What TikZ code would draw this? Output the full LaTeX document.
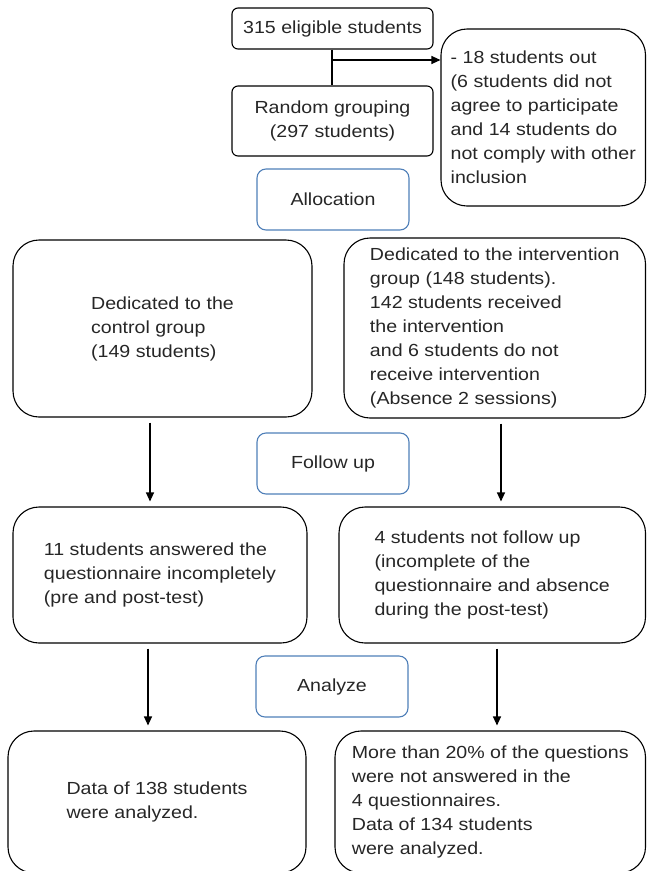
\documentclass[tikz,border=0pt]{standalone}
\usepackage{fontspec}
\setmainfont{Liberation Sans}[FakeStretch=1.12]
\usepackage{xcolor}
\usepackage{tikz}
\usetikzlibrary{arrows.meta, positioning, calc}
\definecolor{phaseblue}{HTML}{4F7FB8}
\definecolor{inkgray}{HTML}{262626}

\begin{document}
\begin{tikzpicture}[
  x=1pt, y=-1pt,
  every node/.style={font=\fontsize{17.5}{24}\selectfont, text=inkgray, inner sep=0pt},
  smallbox/.style={draw, line width=1.1pt, rounded corners=6pt, align=center},
  bigbox/.style={draw, line width=1.1pt, rounded corners=26pt, align=left},
  phasebox/.style={draw=phaseblue, line width=1.1pt, rounded corners=9pt, minimum width=152pt, minimum height=61pt, align=center},
  arr/.style={-{Triangle[length=9pt,width=8pt]}, line width=1.1pt},
]
\useasboundingbox (0,0) rectangle (647,871);
\clip (0,0) rectangle (647,871);

\node[smallbox, minimum width=201pt, minimum height=41pt] (elig) at (332.5,28.5) {315 eligible students};
\node[smallbox, minimum width=201pt, minimum height=70pt] (rand) at (332.5,121) {Random grouping\\(297 students)};
\node[bigbox, minimum width=204.5pt, minimum height=177pt] (excl) at (543.25,117.5)
  {- 18 students out\\(6 students did not\\agree to participate\\and 14 students do\\not comply with other\\inclusion};

\node[phasebox] (alloc) at (333,199.5) {Allocation};
\node[phasebox] (follow) at (333,463.5) {Follow up};
\node[phasebox] (analyze) at (332,686.5) {Analyze};

% Control arm (left)
\node[bigbox, minimum width=299pt, minimum height=177pt] (ctrl) at (162.5,328.5)
  {Dedicated to the\\control group\\(149 students)};
\node[bigbox, minimum width=294pt, minimum height=136pt] (incompl) at (160,575)
  {11 students answered the\\questionnaire incompletely\\(pre and post-test)};
\node[bigbox, minimum width=298pt, minimum height=142pt] (dataA) at (157,802)
  {Data of 138 students\\were analyzed.};

% Intervention arm (right)
\node[bigbox, minimum width=301.5pt, minimum height=180pt] (intv) at (494.75,328)
  {Dedicated to the intervention\\group (148 students).\\142 students received\\the intervention\\and 6 students do not\\receive intervention\\(Absence 2 sessions)};
\node[bigbox, minimum width=306.5pt, minimum height=136pt] (notfol) at (492.25,575)
  {4 students not follow up\\(incomplete of the\\questionnaire and absence\\during the post-test)};
\node[bigbox, minimum width=310.5pt, minimum height=142pt] (dataB) at (490.25,802)
  {More than 20\% of the questions\\were not answered in the\\4 questionnaires.\\Data of 134 students\\were analyzed.};

\coordinate (split) at (332,60);
\draw[line width=1.1pt] (elig.south -| split) -- (rand.north -| split);
\draw[arr] (split) -- (split -| excl.west);

\coordinate (colA) at (150,0);
\coordinate (colB) at (501,0);
\coordinate (colC) at (148,0);
\coordinate (colD) at (497,0);
\foreach \i/\j/\c in {ctrl/incompl/colA, intv/notfol/colB, incompl/dataA/colC, notfol/dataB/colD}
  \draw[arr, shorten <=5pt, shorten >=5pt] (\i.south -| \c) -- (\j.north -| \c);

\end{tikzpicture}
\end{document}
